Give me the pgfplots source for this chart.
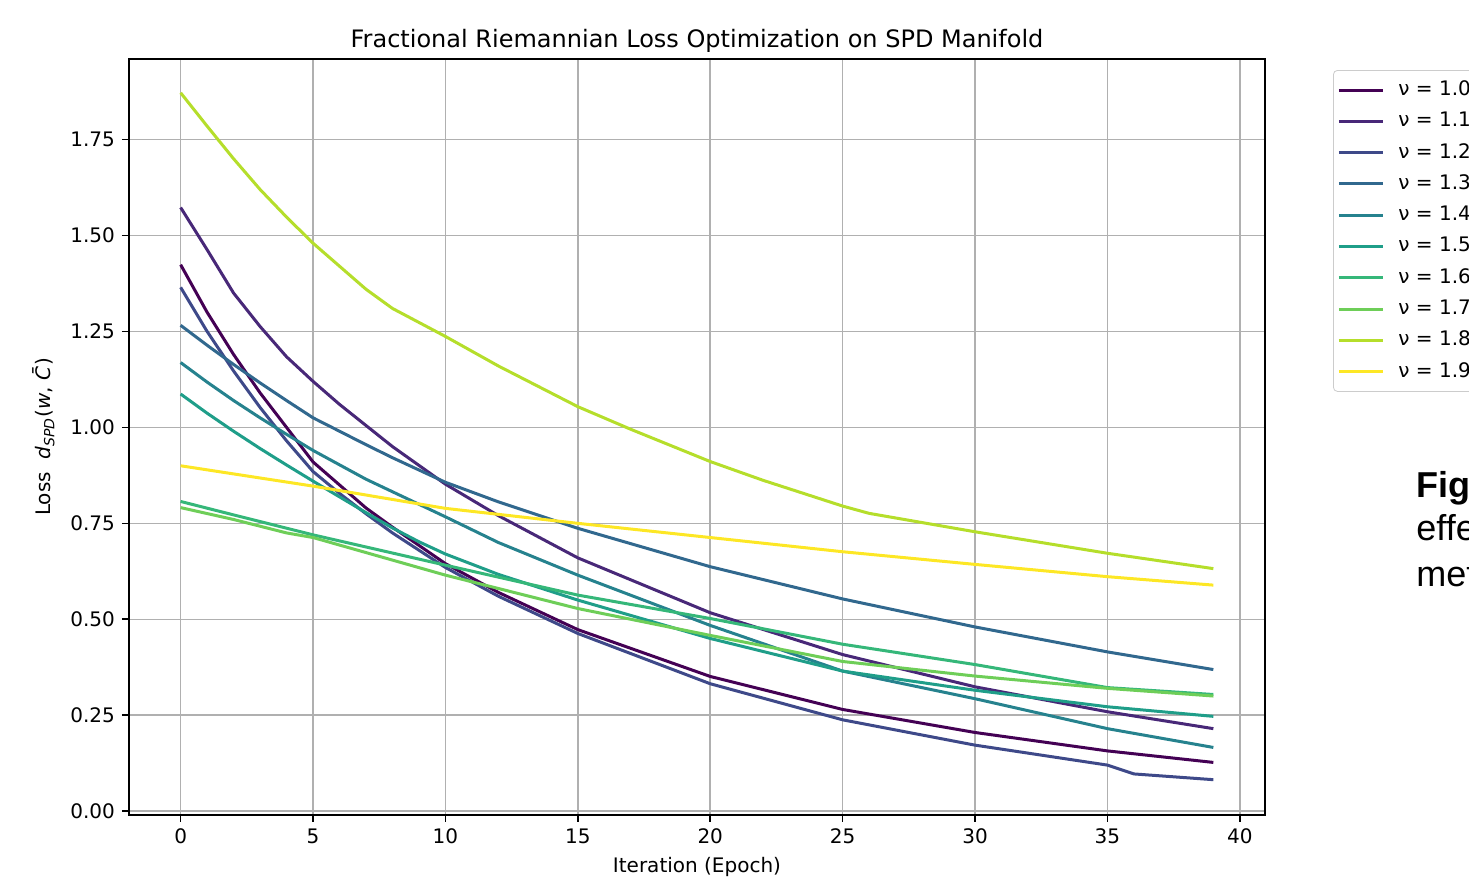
\documentclass[border=0pt]{standalone}
\usepackage{fontspec}
\setmainfont{DejaVu Sans}
\newfontfamily\capfont{Liberation Sans}
\usepackage{pgfplots}
\pgfplotsset{compat=1.18}

% viridis, 10 steps
\definecolor{v0}{HTML}{440154}
\definecolor{v1}{HTML}{482878}
\definecolor{v2}{HTML}{3E4989}
\definecolor{v3}{HTML}{31688E}
\definecolor{v4}{HTML}{26828E}
\definecolor{v5}{HTML}{1F9E89}
\definecolor{v6}{HTML}{35B779}
\definecolor{v7}{HTML}{6ECE58}
\definecolor{v8}{HTML}{B5DE2B}
\definecolor{v9}{HTML}{FDE725}
\definecolor{gridgray}{HTML}{B0B0B0}

\begin{document}
\begin{tikzpicture}
\begin{axis}[
    scale only axis,
    width=568pt, height=378pt,
    xmin=-1.95, xmax=40.95,
    ymin=-0.010, ymax=1.960,
    xtick={0,5,...,40},
    ytick={0,0.25,0.5,0.75,1.0,1.25,1.5,1.75},
    yticklabel style={/pgf/number format/.cd, fixed, fixed zerofill, precision=2},
    /pgf/number format/assume math mode=true,
    tick align=outside,
    major tick length=3.5pt,
    tick style={black, line width=0.8pt},
    axis line style={line width=0.8pt},
    xtick pos=bottom, ytick pos=left,
    grid=major,
    major grid style={gridgray, line width=0.75pt},
    ticklabel style={font=\fontsize{10}{12}\selectfont},
    title={Fractional Riemannian Loss Optimization on SPD Manifold},
    title style={at={(axis description cs:0.5,1.0159)}, anchor=base, yshift=-6.5pt, font=\fontsize{12}{14}\selectfont},
    xlabel={Iteration (Epoch)},
    xlabel style={at={(axis description cs:0.5,-0.0767)}, anchor=base, font=\fontsize{10}{12}\selectfont},
    ylabel={Loss\ \ \textit{d}\textsubscript{\textit{SPD}}(\textit{w}, \textit{\=C})},
    ylabel style={at={(axis description cs:-0.0687,0.5)}, anchor=base, font=\fontsize{10}{12}\selectfont},
    every axis plot/.append style={line width=1.5pt},
    legend style={at={(axis description cs:1.0599,0.9854)}, anchor=north west,
        draw=black!20, rounded corners=2pt, font=\fontsize{10}{12}\selectfont,
        row sep=0pt, column sep=4.5pt, inner sep=2pt,
        nodes={inner sep=2.5pt, text height=8pt, text depth=2.65pt}},
    legend cell align=left,
    legend image code/.code={\draw[#1] (0pt,0pt) -- (22pt,0pt);},
]
\addplot[v0] coordinates {(0,1.424) (1,1.300) (2,1.190) (3,1.090) (4,1.000) (5,0.910) (6,0.850) (7,0.790) (8,0.740) (10,0.645) (12,0.570) (15,0.473) (20,0.351) (25,0.265) (30,0.205) (35,0.157) (39,0.127)};
\addlegendentry{ν = 1.0}
\addplot[v1] coordinates {(0,1.573) (1,1.463) (2,1.350) (3,1.263) (4,1.184) (5,1.120) (6,1.060) (7,1.005) (8,0.950) (10,0.852) (12,0.770) (15,0.660) (20,0.517) (25,0.408) (30,0.324) (35,0.259) (39,0.215)};
\addlegendentry{ν = 1.1}
\addplot[v2] coordinates {(0,1.365) (1,1.250) (2,1.147) (3,1.052) (4,0.965) (5,0.885) (6,0.828) (7,0.775) (8,0.725) (10,0.635) (12,0.560) (15,0.463) (20,0.332) (25,0.238) (30,0.172) (35,0.120) (36,0.097) (39,0.082)};
\addlegendentry{ν = 1.2}
\addplot[v3] coordinates {(0,1.266) (1,1.214) (2,1.164) (3,1.116) (4,1.070) (5,1.025) (7,0.955) (8,0.921) (9,0.889) (10,0.857) (12,0.806) (15,0.737) (20,0.637) (25,0.553) (30,0.480) (35,0.415) (39,0.369)};
\addlegendentry{ν = 1.3}
\addplot[v4] coordinates {(0,1.169) (1,1.118) (2,1.070) (3,1.025) (4,0.982) (5,0.940) (7,0.865) (10,0.767) (12,0.700) (15,0.615) (20,0.484) (25,0.365) (30,0.293) (35,0.215) (39,0.166)};
\addlegendentry{ν = 1.4}
\addplot[v5] coordinates {(0,1.087) (1,1.037) (2,0.990) (3,0.945) (4,0.902) (5,0.860) (7,0.778) (8,0.738) (9,0.702) (10,0.670) (12,0.617) (15,0.550) (20,0.450) (25,0.365) (30,0.315) (35,0.272) (39,0.247)};
\addlegendentry{ν = 1.5}
\addplot[v6] coordinates {(0,0.807) (2,0.772) (5,0.720) (10,0.641) (15,0.563) (20,0.502) (25,0.435) (30,0.382) (35,0.322) (39,0.304)};
\addlegendentry{ν = 1.6}
\addplot[v7] coordinates {(0,0.791) (2,0.760) (4,0.725) (5,0.713) (10,0.615) (15,0.528) (20,0.458) (25,0.390) (30,0.352) (35,0.320) (39,0.300)};
\addlegendentry{ν = 1.7}
\addplot[v8] coordinates {(0,1.872) (1,1.785) (2,1.700) (3,1.620) (4,1.548) (5,1.480) (6,1.420) (7,1.360) (8,1.310) (10,1.237) (12,1.160) (15,1.054) (17,0.995) (20,0.911) (22,0.862) (25,0.795) (26,0.776) (30,0.728) (35,0.672) (39,0.632)};
\addlegendentry{ν = 1.8}
\addplot[v9] coordinates {(0,0.900) (5,0.847) (10,0.789) (15,0.750) (20,0.713) (25,0.676) (30,0.643) (35,0.611) (39,0.589)};
\addlegendentry{ν = 1.9}
\end{axis}
\node[anchor=base west, inner sep=0pt, font=\capfont\fontsize{18}{22}\selectfont] at (643.5pt,158.5pt) {\textbf{Figure 1.}};
\node[anchor=base west, inner sep=0pt, font=\capfont\fontsize{18}{22}\selectfont] at (643.5pt,137pt) {effect of};
\node[anchor=base west, inner sep=0pt, font=\capfont\fontsize{18}{22}\selectfont] at (643.5pt,114pt) {method};
\pgfresetboundingbox
\path (-64.5pt,-31pt) rectangle (670pt,407.5pt);
\end{tikzpicture}
\end{document}
